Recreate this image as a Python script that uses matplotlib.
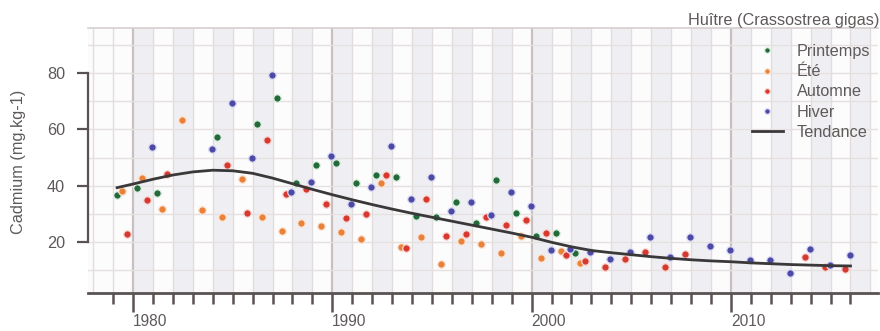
import numpy as np
import matplotlib
matplotlib.use("Agg")
import matplotlib.pyplot as plt

plt.rcParams['font.family'] = ['Liberation Sans', 'DejaVu Sans']

nan = np.nan
years = list(range(1979, 2016))

printemps = [36.7, 39.2, 37.4, nan, nan, 57.4, nan, 61.9, 71.2, 40.8, 47.2, 48.2,
             40.8, 43.7, 43.2, 29.2, 28.9, 34.1, 26.8, 42.2, 30.2, 22.1, 23.3, 16.0,
             nan, nan, nan, nan, nan, nan, nan, nan, nan, nan, nan, nan, nan]
ete = [38.2, 42.6, 31.8, 63.3, 31.3, 28.8, 42.4, 29.0, 23.9, 26.8, 25.8, 23.4,
       21.1, 40.8, 18.3, 21.9, 12.1, 20.5, 19.2, 16.0, 22.1, 14.5, 16.8, 12.4,
       nan, nan, nan, nan, nan, nan, nan, nan, nan, nan, nan, nan, nan]
automne = [23.0, 35.0, 44.3, nan, nan, 47.3, 30.2, 56.2, 37.0, 38.8, 33.4, 28.4,
           29.9, 43.7, 18.0, 35.3, 22.0, 22.7, 29.0, 25.9, 27.8, 23.3, 15.4, 13.2,
           11.0, 13.8, 16.3, 11.2, 15.7, nan, nan, nan, nan, nan, 14.8, 11.0, 10.4]
hiver = [nan, 53.7, nan, nan, 53.0, 69.4, 49.9, 79.3, 37.7, 41.4, 50.4, 33.4,
         39.6, 54.0, 35.4, 43.0, 31.0, 34.3, 29.6, 37.6, 32.8, 17.2, 17.5, 16.3,
         13.8, 16.5, 21.8, 14.6, 21.9, 18.6, 17.1, 13.5, 13.5, 8.9, 17.7, 11.8, 15.4]

trend_years = [1979.2, 1980, 1981, 1982, 1983, 1984, 1985, 1986, 1987, 1988, 1989,
               1990, 1991, 1992, 1993, 1994, 1995, 1996, 1997, 1998, 1999, 2000,
               2001, 2002, 2003, 2004, 2005, 2006, 2007, 2008, 2009, 2010, 2011,
               2012, 2013, 2014, 2015, 2016]
trend_values = [39.3, 40.6, 42.3, 43.8, 44.9, 45.5, 45.3, 44.4, 42.7, 40.7, 38.7,
                36.8, 35.0, 33.3, 31.7, 30.2, 28.8, 27.4, 26.0, 24.6, 23.2, 21.7,
                19.9, 18.3, 17.0, 16.2, 15.5, 14.8, 14.2, 13.7, 13.3, 13.0, 12.6,
                12.3, 12.0, 11.8, 11.6, 11.5]

series_labels = ['Printemps', 'Été', 'Automne', 'Hiver']
series_values = [printemps, ete, automne, hiver]
series_offsets = [0.2, 0.45, 0.7, 0.95]
series_colors = ['#23693a', '#e9813a', '#d5392f', '#4d4aa6']
halo_colors = ['#dcefe2', '#fbe4d2', '#f8d8d4', '#dcdcf4']

decade_ticks = [1980, 1990, 2000, 2010]
year_ticks = list(range(1979, 2017))
y_ticks = [20, 40, 60, 80]

txt = '#5f5a5a'
axc = '#5a5252'

fig = plt.figure(figsize=(8.8, 3.31), dpi=100)
ax = fig.add_axes([88/880, 1-293/331, 790/880, 265/331])
ax.set_xlim(1977.74, 2017.38)
ax.set_ylim(1.9, 96)
ax.set_facecolor('#fcfcfc')

# background bands and grid
for y in range(1980, 2017, 2):
    ax.axvspan(y, y+1, color='#efeff3', zorder=0, lw=0)
for y in range(1978, 2018):
    dec = (y % 10 == 0)
    ax.axvline(y, color='#c9bfbf' if dec else '#e3dcdc', lw=1.6 if dec else 1.0, zorder=0.5)
for v in range(10, 100, 10):
    ax.axhline(v, color='#e6e0e0', lw=1.0, zorder=0.6)

handles = []
for lab, vals, off, col, halo in zip(series_labels, series_values, series_offsets,
                                      series_colors, halo_colors):
    xs = np.array(years) + off
    h, = ax.plot(xs, vals, 'o', ms=5.4, color=col, mec=halo, mew=0.9,
                 label=lab, zorder=3, linestyle='none')
    handles.append(h)
ht, = ax.plot(trend_years, trend_values, '-', color='#3a3838', lw=2.0,
              label='Tendance', zorder=4)
handles.append(ht)

# spines
ax.spines['right'].set_visible(False)
ax.spines['top'].set_color('#d6cfcf')
ax.spines['top'].set_linewidth(1.2)
ax.spines['left'].set_bounds(20, 80)
ax.spines['left'].set_color(axc)
ax.spines['left'].set_linewidth(1.6)
ax.spines['bottom'].set_color(axc)
ax.spines['bottom'].set_linewidth(2.0)

ax.set_yticks(y_ticks)
ax.set_yticklabels([str(t) for t in y_ticks])
ax.tick_params(axis='y', which='major', length=8, width=1.6, color=axc,
               pad=8.5, labelsize=11.7, labelcolor=txt)

ax.set_xticks(decade_ticks)
ax.set_xticklabels([str(t) for t in decade_ticks])
ax.set_xticks(year_ticks, minor=True)
ax.tick_params(axis='x', which='major', length=14, width=1.8, color=axc,
               pad=1, labelsize=11.2, labelcolor=txt)
ax.tick_params(axis='x', which='minor', length=8, width=1.8, color=axc)
for lbl in ax.get_xticklabels():
    lbl.set_ha('left')

fig.text(18/880, 1-161.5/331, 'Cadmium (mg.kg-1)', rotation=90, ha='center',
         va='center', fontsize=11.7, color=txt)
fig.text(879/880, 1-20/331, 'Huître (Crassostrea gigas)', ha='right', va='center',
         fontsize=11.7, color=txt)

leg = ax.legend(handles=handles, loc='upper left',
                bbox_to_anchor=(752/880, 1-44/331), bbox_transform=fig.transFigure,
                frameon=False, fontsize=11.7, handlelength=1.9, handletextpad=0.85,
                labelspacing=0.32, borderpad=0, borderaxespad=0, markerscale=0.75)
for t in leg.get_texts():
    t.set_color(txt)

fig.savefig('out.png', dpi=100)
